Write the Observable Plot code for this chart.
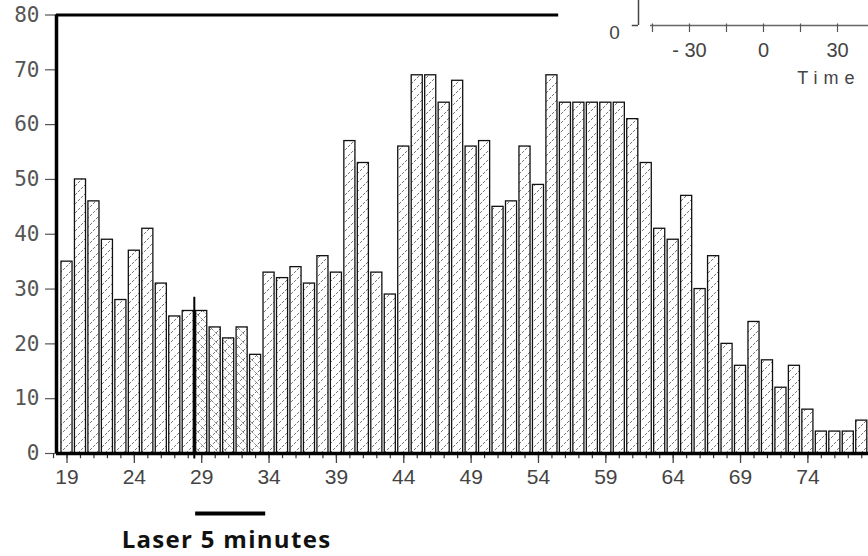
<!DOCTYPE html>
<html><head><meta charset="utf-8">
<script src="https://cdn.jsdelivr.net/npm/d3@7"></script>
<script src="https://cdn.jsdelivr.net/npm/@observablehq/plot@0.6"></script>
<style>
body{margin:0;background:#fff;}
#wrap{position:relative;width:868px;height:556px;overflow:hidden;background:#fff;}
#wrap > svg{position:absolute;left:0;top:0;}
#wrap > svg.inset{left:600px;top:0;}
</style></head><body><div id="wrap"></div>
<script>
// Minute of recording (x) and event count per minute (y)
const minutes = [19,20,21,22,23,24,25,26,27,28,29,30,31,32,33,34,35,36,37,38,39,40,41,42,43,44,45,46,47,48,49,50,51,52,53,54,55,56,57,58,59,60,61,62,63,64,65,66,67,68,69,70,71,72,73,74,75,76,77,78];
const counts  = [35,50,46,39,28,37,41,31,25,26,26,23,21,23,18,33,32,34,31,36,33,57,53,33,29,56,69,69,64,68,56,57,45,46,56,49,69,64,64,64,64,64,61,53,41,39,47,30,36,20,16,24,17,12,16,8,4,4,4,6];
const xTicks = [19,24,29,34,39,44,49,54,59,64,69,74];
const yTicks = [0,10,20,30,40,50,60,70,80];
const laserStart = 29, laserEnd = 33;   // bars recorded during the laser
const laserBar = [28.55, 33.75];          // "Laser 5 minutes" bar
const laserMarker = 28.45;                // vertical marker at laser onset
const laserLabel = "Laser 5 minutes";
// cropped inset (another panel's axis)
const insetTicks = [-45,-30,-15,0,15,30];
const insetLabels = [-30,0,30];
const insetTitle = "Time";

const data = minutes.map((t,i)=>({t, v: counts[i]}));
const xMin = 18.22, xMax = 78.5;
const monoFont = "DejaVu Sans Mono, monospace";

const chart = Plot.plot({
  width: 868, height: 556,
  marginTop: 14.5, marginBottom: 103, marginLeft: 56, marginRight: 0,
  x: {type: "linear", domain: [xMin, xMax], axis: null},
  y: {domain: [0, 80], axis: null},
  style: {background: "white", overflow: "visible"},
  marks: [
    Plot.rectY(data.filter(d => d.t < laserStart || d.t > laserEnd), {
      x1: d => d.t - 0.5, x2: d => d.t + 0.5, y: "v", insetLeft: 1.2, insetRight: 1.2,
      fill: "url(#hatch)", stroke: "#111", strokeWidth: 1.3
    }),
    Plot.rectY(data.filter(d => d.t >= laserStart && d.t <= laserEnd), {
      x1: d => d.t - 0.5, x2: d => d.t + 0.5, y: "v", insetLeft: 1.2, insetRight: 1.2,
      fill: "url(#hatchX)", stroke: "#111", strokeWidth: 1.3
    }),
    // axes
    Plot.axisY(yTicks, {tickSize: 11, tickPadding: 6, fontSize: 21, fontFamily: monoFont, color: "#555", label: null, strokeWidth: 1.2}),
    Plot.ruleX(minutes.concat([18]), {y1: 0, y2: -0.95, stroke: "#333", strokeWidth: 1.2}),
    Plot.axisX(xTicks, {tickSize: 10, tickPadding: 6, fontSize: 21, fontFamily: "Liberation Sans, Arial, sans-serif", color: "#444", label: null, strokeWidth: 1.3}),
    Plot.ruleX([xMin], {y1: 0, y2: 80, stroke: "black", strokeWidth: 3.5}),
    Plot.ruleY([0], {x1: xMin, x2: xMax, stroke: "black", strokeWidth: 3.5}),
    Plot.ruleY([80], {x1: xMin, x2: 55.5, stroke: "black", strokeWidth: 3}),
    // laser marker + annotation
    Plot.ruleX([laserMarker], {y1: -1, y2: 28.5, stroke: "black", strokeWidth: 2}),
    Plot.ruleY([0], {x1: laserBar[0], x2: laserBar[1], dy: 60, stroke: "black", strokeWidth: 4}),
    Plot.text([laserLabel], {x: 30.84, y: 0, dy: 87, text: d => d, fontSize: 24, fontWeight: "bold", fontFamily: "Open Sans, sans-serif", fill: "#111"})
  ]
});

// hatch patterns
const defs = d3.select(chart).insert("defs", ":first-child");
const p1 = defs.append("pattern").attr("id", "hatch").attr("patternUnits", "userSpaceOnUse").attr("width", 9).attr("height", 9);
p1.append("rect").attr("width", 9).attr("height", 9).attr("fill", "white");
p1.append("path").attr("d", "M0,9 L9,0 M-2,2 L2,-2 M7,11 L11,7").attr("stroke", "#666").attr("stroke-width", 0.9).attr("stroke-dasharray", "3,1.2");
const p2 = defs.append("pattern").attr("id", "hatchX").attr("patternUnits", "userSpaceOnUse").attr("width", 9).attr("height", 9);
p2.append("rect").attr("width", 9).attr("height", 9).attr("fill", "white");
p2.append("path").attr("d", "M0,9 L9,0 M-2,2 L2,-2 M7,11 L11,7").attr("stroke", "#666").attr("stroke-width", 0.9).attr("stroke-dasharray", "3,1.2");
p2.append("path").attr("d", "M0,0 L9,9 M-2,7 L2,11 M7,-2 L11,2").attr("stroke", "#666").attr("stroke-width", 0.8).attr("stroke-dasharray", "2,1.5");

document.getElementById("wrap").appendChild(chart);

const inset = Plot.plot({
  width: 268, height: 92, margin: 0,
  x: {domain: [-50, 50], range: [39.65, 286.35], axis: null},
  y: {domain: [0, 10], range: [25, 0], axis: null},
  style: {background: "transparent", overflow: "visible"},
  marks: [
    Plot.ruleX([-50.67], {y1: 0, y2: 12, stroke: "#444", strokeWidth: 1.5}),
    Plot.ruleY([0], {x1: -53.2, x2: -50.67, stroke: "#444", strokeWidth: 1.5}),
    Plot.ruleY([0], {x1: -45.8, x2: 50, stroke: "#666", strokeWidth: 1.5}),
    Plot.ruleX(insetTicks, {y1: 0.6, y2: -2.8, stroke: "#555", strokeWidth: 1.2}),
    Plot.text(insetLabels, {x: d => d, y: 0, dy: 25, text: d => d < 0 ? "- " + Math.abs(d) : String(d), fontSize: 20, fontFamily: "Liberation Sans, Arial, sans-serif", fill: "#444"}),
    Plot.text([0], {x: -60.4, y: 0, dy: 7, text: d => String(d), fontSize: 19, fontFamily: "Liberation Sans, Arial, sans-serif", fill: "#444"}),
    Plot.text([insetTitle], {x: 26.5, y: 0, dy: 53, text: d => d, fontSize: 18, fontFamily: "Liberation Sans, Arial, sans-serif", fill: "#444"})
  ]
});
inset.classList.add("inset");
document.getElementById("wrap").appendChild(inset);

// letter spacing tweaks
d3.select(chart).selectAll("text").filter(function(){ return this.textContent === laserLabel; }).style("letter-spacing", "1.3px");
d3.select(inset).selectAll("text").filter(function(){ return this.textContent === insetTitle; }).style("letter-spacing", "6px");
</script></body></html>
